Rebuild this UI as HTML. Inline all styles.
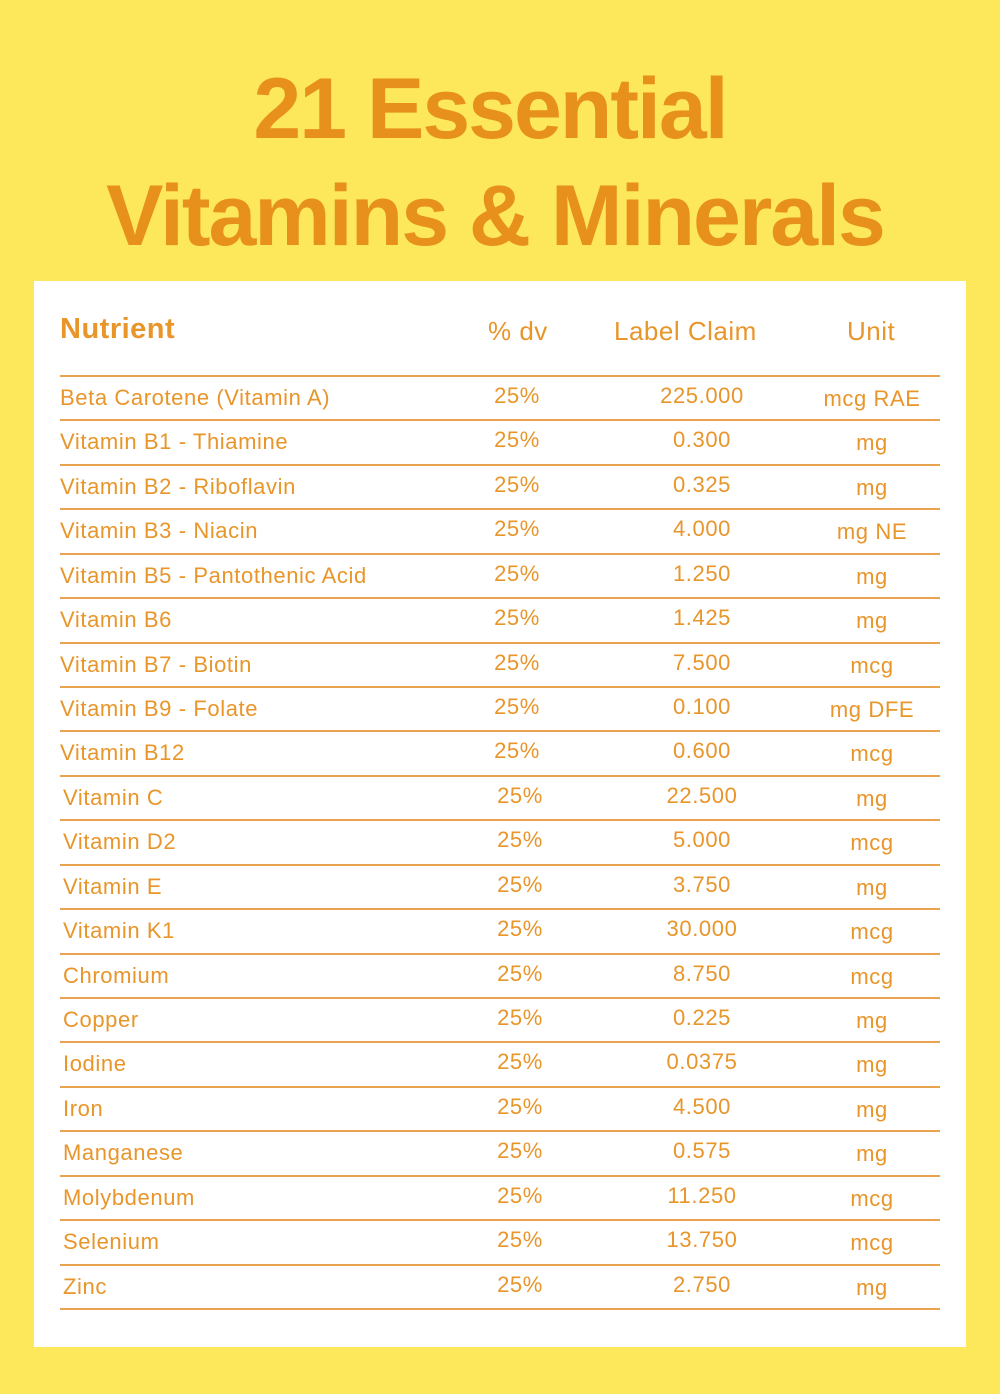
<!DOCTYPE html>
<html><head><meta charset="utf-8"><style>
body{margin:0;width:1000px;height:1394px;background:#FCE85A;position:relative;overflow:hidden;font-family:"Liberation Sans",sans-serif;}
.t{position:absolute;left:0;width:980px;text-align:center;color:#E8901C;font-weight:bold;font-size:86px;letter-spacing:-2px;line-height:1;}
.card{position:absolute;left:34px;top:281px;width:932px;height:1066px;background:#fff;}
.h{position:absolute;color:#E8952A;font-size:26px;top:316px;letter-spacing:0.5px;}
.line{position:absolute;left:60px;width:880px;height:2px;background:#E9A250;}
.c{position:absolute;color:#E8952A;font-size:22px;line-height:1;letter-spacing:0.6px;}
</style></head><body>
<div class="t" style="top:66px">21 Essential</div>
<div class="t" style="top:173px;left:0;width:990px">Vitamins &amp; Minerals</div>
<div class="card"></div>
<div class="h" style="left:60px;font-weight:bold;font-size:29px;top:313px">Nutrient</div>
<div class="h" style="left:488px">% dv</div>
<div class="h" style="left:614px">Label Claim</div>
<div class="h" style="left:847px">Unit</div>
<div id="rows"></div>
<script>
var d=[["Beta Carotene (Vitamin A)","225.000","mcg RAE"],["Vitamin B1 - Thiamine","0.300","mg"],["Vitamin B2 - Riboflavin","0.325","mg"],["Vitamin B3 - Niacin","4.000","mg NE"],["Vitamin B5 - Pantothenic Acid","1.250","mg"],["Vitamin B6","1.425","mg"],["Vitamin B7 - Biotin","7.500","mcg"],["Vitamin B9 - Folate","0.100","mg DFE"],["Vitamin B12","0.600","mcg"],["Vitamin C","22.500","mg"],["Vitamin D2","5.000","mcg"],["Vitamin E","3.750","mg"],["Vitamin K1","30.000","mcg"],["Chromium","8.750","mcg"],["Copper","0.225","mg"],["Iodine","0.0375","mg"],["Iron","4.500","mg"],["Manganese","0.575","mg"],["Molybdenum","11.250","mcg"],["Selenium","13.750","mcg"],["Zinc","2.750","mg"]];
var h="";
for(var i=0;i<=21;i++){h+='<div class="line" style="top:'+(375+i*44.43)+'px"></div>';}
for(var i=0;i<21;i++){var y=375+i*44.43;var off=i>=9?3:0;
h+='<div class="c" style="left:'+(60+off)+'px;top:'+(y+12)+'px">'+d[i][0]+'</div>';
h+='<div class="c" style="left:'+(467+off)+'px;width:100px;text-align:center;top:'+(y+10)+'px">25%</div>';
h+='<div class="c" style="left:622px;width:160px;text-align:center;top:'+(y+10)+'px">'+d[i][1]+'</div>';
h+='<div class="c" style="left:792px;width:160px;text-align:center;top:'+(y+13)+'px">'+d[i][2]+'</div>';}
document.getElementById("rows").innerHTML=h;
</script>
</body></html>
